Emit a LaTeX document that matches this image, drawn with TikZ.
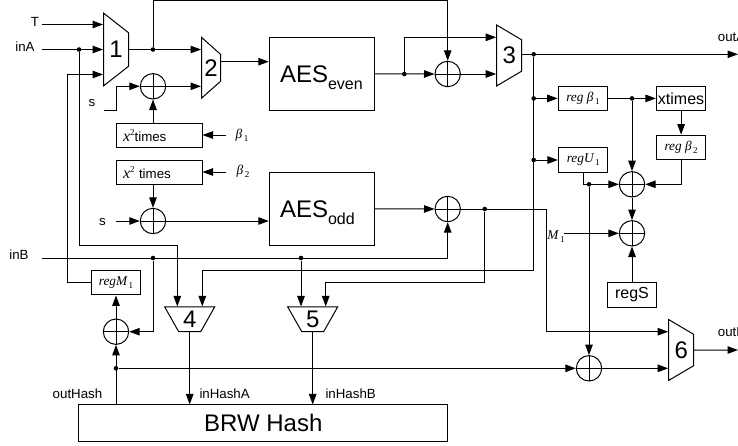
\documentclass[tikz,border=0pt]{standalone}
\usepackage{fontspec}
\setmainfont{Liberation Sans}
\newfontfamily\labfont{Liberation Serif}
\usetikzlibrary{arrows.meta,shapes.geometric}
\newcommand{\sublab}[2]{{\labfont\itshape #1}\kern1.5pt\raisebox{-3pt}{\fontsize{9}{9}\labfont #2}}
\newcommand{\xsq}{{\labfont\itshape\fontsize{16}{16}\selectfont x}\raisebox{6pt}{\labfont\fontsize{9}{9}\selectfont 2}}
\newcommand{\aessub}[1]{AES\raisebox{-7.7pt}[0pt][0pt]{\fontsize{16}{16}\selectfont #1}}

\begin{document}
\begin{tikzpicture}[x=1pt,y=-1pt,
  lab/.style={inner sep=0pt, font=\fontsize{13.3}{15}\selectfont},
  sym/.style={inner sep=0pt, font=\labfont\fontsize{13.3}{15}\selectfont},
  caja/.style={rectangle, draw, line width=1pt, inner sep=0pt, minimum width=49.5pt, minimum height=24.7pt, font=\fontsize{16}{18}\selectfont},
  reg/.style={caja, font=\fontsize{13.3}{15}\selectfont},
  times/.style={caja, minimum width=86pt, minimum height=24pt, text width=72pt, text height=12.5pt, text depth=0pt, align=left, font=\fontsize{13.3}{15}\selectfont},
  aes/.style={rectangle, draw, line width=1pt, inner sep=0pt, minimum width=105pt, minimum height=73.6pt, text width=83.6pt, align=left, font=\fontsize{24}{26}\selectfont},
  mux/.style={trapezium, trapezium stretches=true, draw, line width=1pt, inner sep=0pt, font=\fontsize{24}{26}\selectfont},
  muxv/.style={mux, shape border rotate=270},
  muxh/.style={mux, shape border rotate=180, minimum width=50pt, minimum height=24.7pt, trapezium angle=63},
  xorg/.style={circle, draw, line width=1pt, inner sep=0pt, minimum size=25.4pt, path picture={\draw[line width=1pt] (path picture bounding box.north) -- (path picture bounding box.south) (path picture bounding box.west) -- (path picture bounding box.east);}},
  punto/.style={circle, fill, inner sep=0pt, minimum size=4.6pt},
  lin/.style={-{Triangle[length=10.5pt,width=7.5pt]}, line width=1pt}
]
\useasboundingbox (0,0) rectangle (738,445);
% multiplexores
\node[muxv, minimum width=73pt, minimum height=25pt, trapezium angle=54.2] (mux1) at (116,49.5) {1};
\node[muxv, minimum width=61pt, minimum height=19pt, trapezium angle=51.7] (mux2) at (211,67.8) {2};
\node[muxv, minimum width=61pt, minimum height=25pt, trapezium angle=59] (mux3) at (509.2,55.5) {3};
\node[muxh] (mux4) at (189.7,319.3) {4};
\node[muxh] (mux5) at (312.7,319.3) {5};
\node[muxv, minimum width=61pt, minimum height=25pt, trapezium angle=59] (mux6) at (681.2,350) {6};
% bloques
\node[aes] (aesE) at (321.8,73.8) {\aessub{even}};
\node[aes] (aesO) at (321.8,208.8) {\aessub{odd}};
\node[times] (x2a) at (159,135) {\xsq times};
\node[times] (x2b) at (159,172) {\xsq\ times};
\node[reg] (regB1) at (582.9,98.4) {\sublab{reg β}{1}};
\node[reg] (regB2) at (681.1,147.5) {\sublab{reg β}{2}};
\node[reg] (regU) at (583.2,160) {\sublab{regU}{1}};
\node[reg] (regM) at (116,282.6) {\sublab{regM}{1}};
\node[caja] (xtimes) at (681.1,98.4) {xtimes};
\node[caja] (regS) at (632,294.8) {regS};
\node[rectangle, draw, line width=1pt, inner sep=0pt, minimum width=368.7pt, minimum height=36.7pt, font=\fontsize{24}{26}\selectfont] (brw) at (263.3,423.3) {BRW Hash};
% sumadores
\node[xorg] (xorA) at (153,86.3) {};
\node[xorg] (xorD) at (153,221) {};
\node[xorg] (xorC) at (447.7,74) {};
\node[xorg] (xorH) at (447.7,209) {};
\node[xorg] (xorE) at (632,184.3) {};
\node[xorg] (xorF) at (632,233.3) {};
\node[xorg] (xorI) at (116,331.7) {};
\node[xorg] (xorJ) at (589,368.3) {};
% puntos
\node[punto] (dotA) at (79,49.5) {};
\node[punto] (dotB) at (153,49.5) {};
\node[punto] (dotC) at (404.3,74) {};
\node[punto] (dotD) at (533.7,54.3) {};
\node[punto] (dotE) at (533.7,98.4) {};
\node[punto] (dotF) at (533.7,160) {};
\node[punto] (dotG) at (632,98.4) {};
\node[punto] (dotH) at (589,184.3) {};
\node[punto] (dotI) at (484.7,209) {};
\node[punto] (dotJ) at (153,258) {};
\node[punto] (dotK) at (301,258) {};
\node[punto] (dotL) at (116,368.3) {};
% esquinas y extremos libres
\coordinate (inT) at (42,24.5);
\coordinate (inA) at (42,49.5);
\coordinate (inB) at (42,258);
\coordinate (inS) at (104,110.6);
\coordinate (bendS) at (116,86.3);
\coordinate (inSb) at (116,221);
\coordinate (inB1) at (226,135);
\coordinate (inB2) at (226,172);
\coordinate (inM) at (564,233.3);
\coordinate (outA) at (738,54.3);
\coordinate (outB) at (738,350);
\coordinate (fbM) at (67,74.5);
\coordinate (topC) at (447.7,0.7);
\coordinate (m2out) at (220.5,61.7);
\coordinate (m3a) at (404.3,37.3);
\coordinate (m4a) at (177.3,245);
\coordinate (m4b) at (202.3,270.5);
\coordinate (m5b) at (325.7,282.7);
\coordinate (m6a) at (546,331.7);
% textos
\node[lab] (lT) at (35,21.5) {T};
\node[lab] (lA) at (25,46.5) {inA};
\node[lab] (lB) at (19,255) {inB};
\node[lab] (ls1) at (92,102.5) {s};
\node[lab] (ls2) at (102.5,222) {s};
\node[lab] (lH) at (77.5,394) {outHash};
\node[lab, anchor=west] (lHA) at (199.3,394) {inHashA};
\node[lab, anchor=west] (lHB) at (325.3,394) {inHashB};
\node[lab, anchor=west] (lOA) at (717.7,37.3) {outA};
\node[lab, anchor=west] (lOB) at (717.7,332.3) {outB};
\node[sym] (lb1) at (242,135) {\sublab{β}{1}};
\node[sym] (lb2) at (243,171) {\sublab{β}{2}};
\node[sym] (lM) at (556,237) {\sublab{M}{1}};
% entradas
\draw[lin] (inT) -- (inT -| mux1.west);
\draw[lin] (inA) -- (inA -| mux1.west);
\draw[lin] (regM.west) -| (fbM) -- (fbM -| mux1.west);
\draw[lin] (dotA) |- (m4a) -- (m4a |- mux4.north);
\draw[lin] (mux1.east) -- (mux1.east -| mux2.west);
\draw[lin] (dotB) |- (topC) -- (xorC.north);
\draw[lin] (inS) -| (bendS) -- (xorA.west);
\draw[lin] (xorA.east) -- (xorA.east -| mux2.west);
\draw[lin] (xorA |- x2a.north) -- (xorA.south);
\draw[lin] (inB1) -- (x2a.east);
\draw[lin] (inB2) -- (x2b.east);
\draw[lin] (xorA |- x2b.south) -- (xorD.north);
\draw[lin] (inSb) -- (xorD.west);
\draw[lin] (xorD.east) -- (xorD.east -| aesO.west);
\draw[lin] (m2out -| mux2.east) -- (m2out -| aesE.west);
% salidas AES
\draw[lin] (aesE.east) -- (xorC.west);
\draw[lin] (dotC) -- (m3a) -- (m3a -| mux3.west);
\draw[lin] (xorC.east) -- (xorC.east -| mux3.west);
\draw[lin] (outA -| mux3.east) -- (outA);
\draw[lin] (dotD) |- (m4b) -- (m4b |- mux4.north);
\draw[lin] (aesO.east) -- (xorH.west);
\draw[lin] (xorH.east) -| (m6a) -- (m6a -| mux6.west);
\draw[lin] (dotI) |- (m5b) -- (m5b |- mux5.north);
% registros
\draw[lin] (dotE) -- (regB1.west);
\draw[lin] (dotF) -- (regU.west);
\draw[lin] (regB1.east) -- (xtimes.west);
\draw[lin] (xtimes.south) -- (regB2.north);
\draw[lin] (dotG) -- (xorE.north);
\draw[lin] (regB2.south) |- (xorE.east);
\draw[lin] (regU.south) |- (xorE.west);
\draw[lin] (dotH) -- (xorJ.north);
\draw[lin] (xorE.south) -- (xorF.north);
\draw[lin] (inM) -- (xorF.west);
\draw[lin] (regS.north) -- (xorF.south);
% hash
\draw[lin] (inB) -| (xorH.south);
\draw[lin] (dotJ) |- (xorI.east);
\draw[lin] (dotK) -- (dotK |- mux5.north);
\draw[lin] (xorI.north) -- (regM.south);
\draw[lin] (xorI |- brw.north) -- (xorI.south);
\draw[lin] (dotL) -- (xorJ.west);
\draw[lin] (xorJ.east) -- (xorJ.east -| mux6.west);
\draw[lin] (mux4.south) -- (mux4.south |- brw.north);
\draw[lin] (mux5.south) -- (mux5.south |- brw.north);
\draw[lin] (mux6.east) -- (outB);
\end{tikzpicture}
\end{document}
